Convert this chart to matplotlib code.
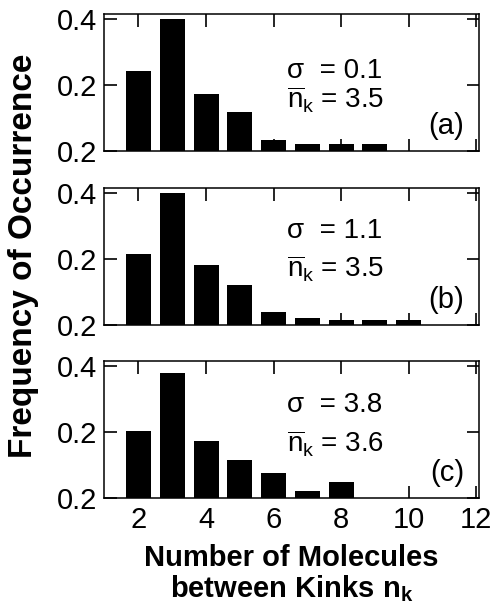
import matplotlib
matplotlib.use("Agg")
import matplotlib.pyplot as plt

plt.rcParams["font.family"] = ["Liberation Sans", "DejaVu Sans"]
plt.rcParams["mathtext.fontset"] = "custom"
plt.rcParams["mathtext.rm"] = "Liberation Sans"
plt.rcParams["mathtext.bf"] = "Liberation Sans:bold"
plt.rcParams["mathtext.it"] = "Liberation Sans:italic"

# kink spacing histograms, three values of sigma
n_a = [2, 3, 4, 5, 6, 7, 8, 9]
freq_a = [0.242, 0.399, 0.172, 0.117, 0.032, 0.020, 0.020, 0.020]

n_b = [2, 3, 4, 5, 6, 7, 8, 9, 10]
freq_b = [0.216, 0.399, 0.183, 0.121, 0.039, 0.022, 0.016, 0.016, 0.014]

n_c = [2, 3, 4, 5, 6, 7, 8]
freq_c = [0.202, 0.380, 0.173, 0.116, 0.075, 0.020, 0.048]

sigmas = ["0.1", "1.1", "3.8"]
mean_nk = ["3.5", "3.5", "3.6"]
panel_tags = ["(a)", "(b)", "(c)"]

ytick_vals = [0.0, 0.2, 0.4]
ytick_labels = ["0.2", "0.2", "0.4"]
xtick_vals = [2, 4, 6, 8, 10, 12]

fig = plt.figure(figsize=(4.96, 6.11), dpi=100)

left, width, height = 0.2097, 0.756, 0.2242
bottoms = [0.7529, 0.4681, 0.1849]
# baselines of the two annotation lines (axes fraction)
line1_y = [0.535, 0.635, 0.625]
line2_y = [0.31, 0.35, 0.335]

data = [(n_a, freq_a), (n_b, freq_b), (n_c, freq_c)]

for i, (xs, ys) in enumerate(data):
    ax = fig.add_axes([left, bottoms[i], width, height])
    ax.bar(xs, ys, width=0.74, color="black", linewidth=0)
    ax.set_xlim(0.98, 12.08)
    ax.set_ylim(0, 0.415)
    ax.set_xticks(xtick_vals)
    ax.set_yticks(ytick_vals)
    ax.set_yticklabels(ytick_labels)
    ax.tick_params(direction="in", length=9, width=1.2, top=True, right=True,
                   labelsize=21, pad=6)
    ax.tick_params(axis="y", pad=5)
    for sp in ax.spines.values():
        sp.set_linewidth(1.1)
    if i < 2:
        ax.set_xticklabels([])

    ax.text(0.488, line1_y[i], "σ  = " + sigmas[i], transform=ax.transAxes,
            fontsize=20, ha="left", va="baseline")
    ax.text(0.488, line2_y[i], r"$\overline{\mathrm{n}}_\mathrm{k}$ = " + mean_nk[i],
            transform=ax.transAxes, fontsize=20, ha="left", va="baseline")
    ax.text(0.96, 0.185, panel_tags[i], transform=ax.transAxes,
            fontsize=21, ha="right", va="center")

    if i == 2:
        ax.set_xlabel("Number of Molecules\nbetween Kinks n$_\\mathbf{k}$",
                      fontsize=21, fontweight="bold", labelpad=7, linespacing=1.05)

fig.text(0.048, 0.581, "Frequency of Occurrence", rotation=90, fontsize=24,
         fontweight="bold", ha="center", va="center")

fig.savefig("out.png", dpi=100)
